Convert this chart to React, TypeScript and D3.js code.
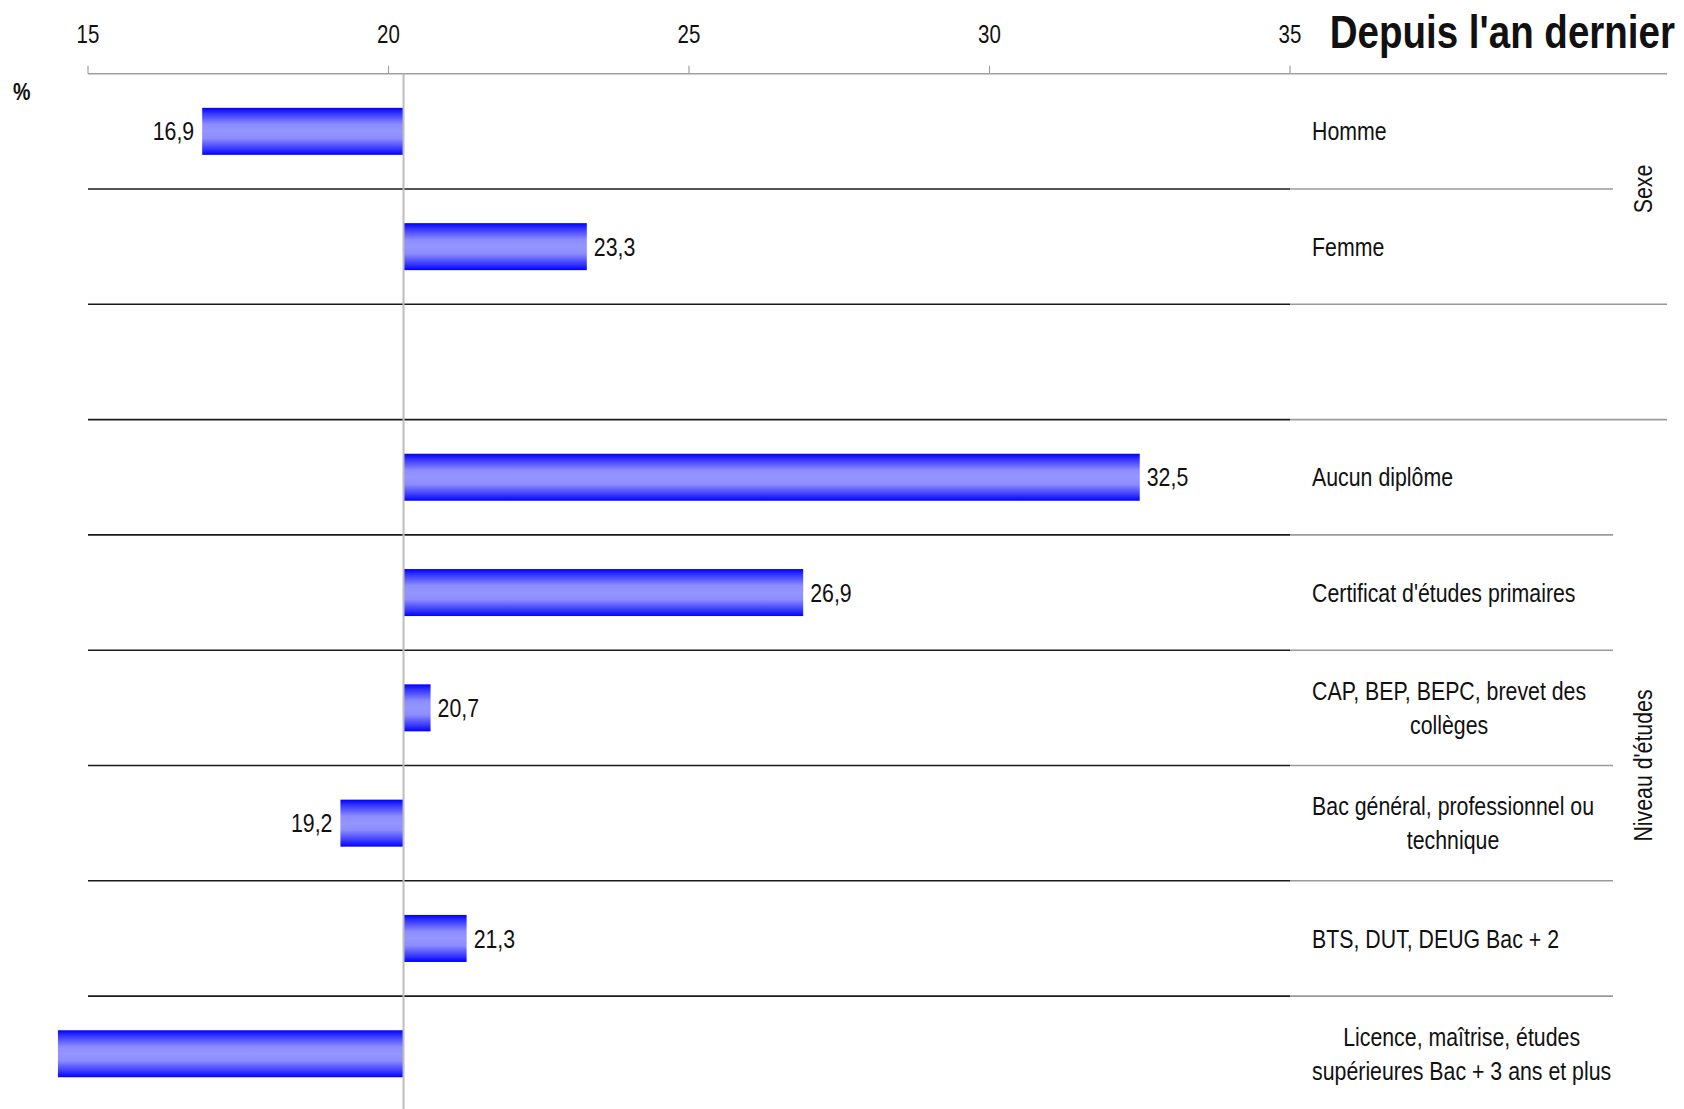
import React, { useMemo } from "react";
import * as d3 from "d3";

const categories: string[][] = [
  ["Homme"],
  ["Femme"],
  [],
  ["Aucun diplôme"],
  ["Certificat d'études primaires"],
  ["CAP, BEP, BEPC, brevet des", "collèges"],
  ["Bac général, professionnel ou", "technique"],
  ["BTS, DUT, DEUG Bac + 2"],
  ["Licence, maîtrise, études", "supérieures Bac + 3 ans et plus"],
];
const values: (number | null)[] = [16.9, 23.3, null, 32.5, 26.9, 20.7, 19.2, 21.3, 14.5];
const valueLabels: string[] = ["16,9", "23,3", "", "32,5", "26,9", "20,7", "19,2", "21,3", ""];
const ticks: number[] = [15, 20, 25, 30, 35];
const baselineValue = 20.25;
const groups = [
  { name: "Sexe", from: 0, to: 1 },
  { name: "Niveau d'études", from: 3, to: 8 },
];
const title = "Depuis l'an dernier";

const FONT = "'Liberation Sans', Arial, sans-serif";
const NARROW = 0.82;

function NText(props: {
  x: number;
  y: number;
  rotate?: number;
  anchor?: "start" | "middle" | "end";
  size: number;
  bold?: boolean;
  dy?: string;
  children: React.ReactNode;
}) {
  const { x, y, rotate = 0, anchor = "start", size, bold, dy, children } = props;
  return (
    <g transform={`translate(${x},${y}) rotate(${rotate}) scale(${NARROW},1)`}>
      <text
        x={0}
        y={0}
        dy={dy}
        textAnchor={anchor}
        fontSize={size}
        fontWeight={bold ? "bold" : "normal"}
        fontFamily={FONT}
        fill="#111"
      >
        {children}
      </text>
    </g>
  );
}

export default function App() {
  const W = 1684, H = 1109;
  const x = d3.scaleLinear().domain([15, 35]).range([88, 1290]);
  const step = 115.3;
  const top = 73.7;
  const y = d3
    .scaleBand<number>()
    .domain(d3.range(categories.length))
    .range([top, top + step * categories.length])
    .padding(0);
  const barH = 47;
  const labelLeft = 1312;
  const labelFont = 26;

  const measure = useMemo(() => {
    const c = document.createElement("canvas").getContext("2d")!;
    c.font = `${labelFont}px ${FONT}`;
    return (s: string) => c.measureText(s).width * NARROW;
  }, []);

  const x0 = x(baselineValue);

  return (
    <svg width={W} height={H} style={{ position: "absolute", left: 0, top: 0, background: "#fff" }}>
      <defs>
        <linearGradient id="barGrad" x1="0" y1="0" x2="0" y2="1">
          <stop offset="0%" stopColor="#0000ff" />
          <stop offset="12%" stopColor="#3535ff" />
          <stop offset="35%" stopColor="#8c8cff" />
          <stop offset="50%" stopColor="#9595ff" />
          <stop offset="65%" stopColor="#8c8cff" />
          <stop offset="88%" stopColor="#3535ff" />
          <stop offset="100%" stopColor="#0000ff" />
        </linearGradient>
      </defs>

      {/* top axis */}
      <line x1={x(15)} x2={1667} y1={top} y2={top} stroke="#a0a0a0" strokeWidth={1.5} />
      {ticks.map((t) => (
        <g key={t}>
          <line x1={x(t)} x2={x(t)} y1={top} y2={top - 8} stroke="#a0a0a0" strokeWidth={1.2} />
          <NText x={x(t)} y={43} anchor="middle" size={25}>
            {t}
          </NText>
        </g>
      ))}

      {/* separators */}
      {d3.range(1, categories.length).map((i) => {
        const yy = top + i * step;
        const end = groups.some((g) => g.from === i) || groups.some((g) => g.to === i - 1) ? 1667 : 1613;
        return (
          <g key={i}>
            <line x1={x(15)} x2={x(35)} y1={yy} y2={yy} stroke="#1a1a1a" strokeWidth={1.6} />
            <line x1={x(35)} x2={end} y1={yy} y2={yy} stroke="#9a9a9a" strokeWidth={1.6} />
          </g>
        );
      })}

      {/* bars */}
      {values.map((v, i) => {
        if (v == null) return null;
        const cy = (y(i) as number) + y.bandwidth() / 2;
        const xa = Math.min(x(v), x0);
        const xb = Math.max(x(v), x0);
        return (
          <g key={i}>
            <rect x={xa} y={cy - barH / 2} width={xb - xa} height={barH} fill="url(#barGrad)" />
            {valueLabels[i] && (
              <NText
                x={v >= baselineValue ? x(v) + 7 : x(v) - 8}
                y={cy}
                dy="0.35em"
                anchor={v >= baselineValue ? "start" : "end"}
                size={labelFont}
              >
                {valueLabels[i]}
              </NText>
            )}
          </g>
        );
      })}

      {/* baseline */}
      <line x1={x0} x2={x0} y1={top} y2={H} stroke="#bdbdbd" strokeWidth={2} />

      {/* category labels */}
      {categories.map((lines, i) => {
        if (!lines.length) return null;
        const cy = (y(i) as number) + y.bandwidth() / 2;
        const maxW = Math.max(...lines.map(measure));
        const cx = labelLeft + maxW / 2;
        const lh = 34;
        return (
          <g key={i}>
            {lines.map((l, j) => (
              <NText
                key={j}
                x={cx}
                y={cy + (j - (lines.length - 1) / 2) * lh}
                dy="0.35em"
                anchor="middle"
                size={labelFont}
              >
                {l}
              </NText>
            ))}
          </g>
        );
      })}

      {/* group labels */}
      {groups.map((g) => {
        const cy = ((y(g.from) as number) + (y(g.to) as number) + y.bandwidth()) / 2;
        return (
          <NText key={g.name} x={1643} y={cy} rotate={-90} anchor="middle" dy="0.35em" size={labelFont}>
            {g.name}
          </NText>
        );
      })}

      <NText x={13} y={100} size={24} bold>
        %
      </NText>
      <NText x={1675} y={48} anchor="end" size={47} bold>
        {title}
      </NText>
    </svg>
  );
}
